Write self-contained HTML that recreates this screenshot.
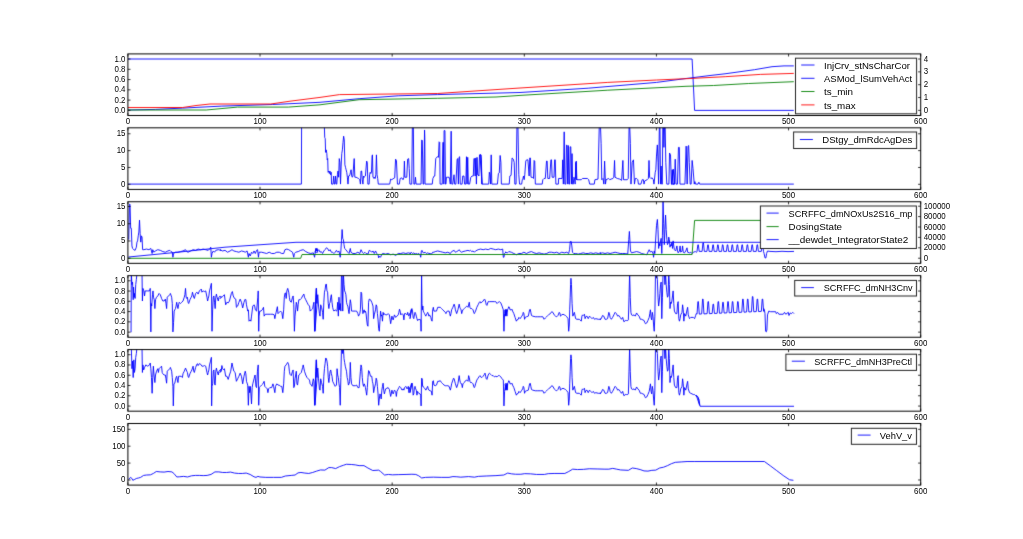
<!DOCTYPE html>
<html><head><meta charset="utf-8"><style>
html,body{margin:0;padding:0;background:#fff;width:1023px;height:539px;overflow:hidden}
svg{display:block;will-change:transform}
text{font-family:"Liberation Sans",sans-serif;fill:#000}
.xl{font-size:9.0px;text-anchor:middle}
.yl{font-size:9.0px;text-anchor:end}
.yr{font-size:9.0px;text-anchor:start}
.lt{font-size:9.3px}
.tk{stroke:#000;stroke-width:0.8}
.fr{fill:none;stroke:#000;stroke-width:1}
.lg{fill:#fff;stroke:#222;stroke-width:1}
.dl{fill:none;stroke-width:0.9;stroke-linejoin:round}
</style></head><body>
<svg width="1023" height="539" viewBox="0 0 1023 539">
<filter id="bl" x="0" y="0" width="1" height="1" color-interpolation-filters="sRGB"><feConvolveMatrix order="3" kernelMatrix="0.015 0.075 0.015 0.075 0.64 0.075 0.015 0.075 0.015" edgeMode="duplicate"/></filter>
<g filter="url(#bl)">
<rect width="1023" height="539" fill="#fff"/>
<defs><clipPath id="c0"><rect x="127.90" y="53.90" width="792.80" height="61.60"/></clipPath><clipPath id="c1"><rect x="127.90" y="127.82" width="792.80" height="61.60"/></clipPath><clipPath id="c2"><rect x="127.90" y="201.74" width="792.80" height="61.60"/></clipPath><clipPath id="c3"><rect x="127.90" y="275.66" width="792.80" height="61.60"/></clipPath><clipPath id="c4"><rect x="127.90" y="349.58" width="792.80" height="61.60"/></clipPath><clipPath id="c5"><rect x="127.90" y="423.50" width="792.80" height="61.60"/></clipPath></defs>
<path d="M128.00,59.00 L692.10,59.00 L694.60,110.40 L793.80,110.40" stroke="#0000ff" class="dl" clip-path="url(#c0)"/>
<path d="M128.00,110.00 L155.40,109.40 L182.70,108.10 L221.80,106.10 L272.70,104.50 L320.00,102.30 L359.10,98.70 L398.20,95.80 L437.30,94.60 L520.00,92.50 L588.20,88.20 L656.60,82.40 L686.00,78.50 L710.00,75.50 L725.00,73.80 L754.50,69.70 L772.00,66.70 L784.00,65.90 L793.80,65.90" stroke="#0000ff" class="dl" clip-path="url(#c0)"/>
<path d="M128.00,110.00 L206.20,110.00 L237.50,107.10 L288.30,107.10 L320.00,104.80 L359.10,99.70 L437.30,98.30 L496.00,97.00 L510.00,96.10 L520.00,95.40 L607.80,90.20 L686.00,86.30 L713.50,85.50 L748.70,83.50 L793.80,81.70" stroke="#008000" class="dl" clip-path="url(#c0)"/>
<path d="M128.00,107.50 L182.70,107.50 L196.00,105.50 L210.00,104.00 L270.70,104.00 L290.00,101.20 L320.00,97.40 L339.50,94.60 L437.30,93.50 L520.00,88.00 L607.80,82.40 L656.60,80.00 L689.90,78.50 L725.20,76.70 L760.40,74.40 L793.80,73.40" stroke="#ff0000" class="dl" clip-path="url(#c0)"/>
<path d="M128.00,184.10 L301.40,184.10 L301.60,120.00 L324.35,126.24 L324.73,137.44 L325.22,138.68 L325.60,152.36 L326.22,149.88 L326.84,153.61 L327.21,159.83 L327.71,158.58 L328.08,172.26 L328.71,171.02 L329.33,173.51 L329.95,171.02 L330.57,174.75 L331.19,172.26 L331.57,184.10 L333.06,184.10 L333.68,176.00 L334.30,184.10 L334.93,184.10 L335.55,176.00 L336.17,184.10 L336.79,184.10 L337.41,174.75 L338.03,171.02 L338.66,177.24 L339.28,158.58 L339.90,162.31 L340.52,184.10 L341.14,166.04 L341.77,153.61 L342.39,149.88 L343.01,142.41 L343.63,136.19 L344.25,139.93 L344.88,164.80 L345.50,167.29 L346.12,169.78 L346.74,172.26 L347.36,177.24 L347.99,184.10 L348.61,176.00 L349.23,176.00 L349.85,174.75 L350.47,172.26 L351.09,169.78 L351.72,176.00 L352.34,177.24 L352.96,176.00 L353.58,166.04 L354.20,158.58 L354.83,177.24 L356.07,177.24 L357.31,177.86 L358.56,178.48 L359.80,179.73 L360.42,184.10 L361.04,171.02 L361.67,171.02 L362.29,179.73 L362.91,184.10 L363.53,176.00 L364.15,177.24 L365.40,176.00 L366.64,161.07 L367.26,162.31 L367.89,184.10 L369.13,184.10 L369.60,174.75 L370.22,172.26 L370.85,173.51 L371.47,172.26 L372.09,156.09 L372.46,154.85 L372.96,177.24 L373.33,177.24 L373.96,178.48 L374.58,177.24 L375.20,178.48 L375.82,174.75 L376.44,154.85 L377.06,174.75 L377.69,178.48 L378.31,184.10 L389.50,184.10 L389.73,184.10 L390.60,179.10 L391.84,179.73 L393.08,178.73 L394.70,177.86 L395.57,159.20 L396.44,160.45 L397.44,184.10 L399.30,184.10 L400.17,178.48 L401.79,177.86 L403.03,179.73 L403.91,177.24 L404.40,161.07 L404.90,177.24 L406.77,177.24 L407.64,159.20 L408.63,158.58 L409.25,168.53 L409.88,184.10 L411.74,184.10 L412.36,126.24 L413.36,126.24 L413.86,184.10 L414.85,184.10 L415.47,177.24 L416.09,184.10 L421.07,184.10 L421.69,139.93 L422.31,140.55 L423.06,184.10 L423.81,184.10 L424.55,129.98 L424.80,137.44 L425.05,184.10 L432.26,184.10 L432.89,178.48 L434.13,176.00 L434.75,176.00 L435.75,158.58 L436.62,157.34 L437.86,156.72 L438.48,157.34 L439.10,141.79 L439.73,142.41 L440.10,184.10 L442.21,184.10 L442.84,142.41 L443.46,142.41 L443.83,184.10 L444.08,130.60 L444.95,130.60 L445.45,184.10 L445.95,184.10 L446.44,177.24 L447.19,177.24 L449.05,177.24 L449.68,179.73 L450.30,184.10 L451.17,131.22 L451.79,184.10 L452.79,184.10 L454.03,174.75 L454.65,184.10 L455.90,184.10 L457.14,159.20 L457.76,158.58 L458.38,184.10 L459.00,157.34 L459.63,156.72 L460.25,184.10 L462.11,184.10 L462.74,176.00 L463.98,176.00 L464.60,184.10 L465.85,184.10 L466.47,156.72 L467.09,184.10 L467.71,157.34 L468.33,184.10 L469.58,184.10 L470.82,177.24 L472.06,176.00 L473.31,176.00 L473.93,158.58 L474.55,158.58 L475.17,176.00 L475.80,157.96 L476.42,184.10 L477.04,157.34 L477.66,174.75 L478.28,174.75 L478.91,176.00 L479.53,154.85 L480.77,154.85 L481.39,159.83 L482.01,184.10 L480.00,154.85 L481.00,154.85 L481.87,184.10 L488.71,184.10 L489.33,172.26 L489.95,174.75 L490.57,184.10 L491.19,154.85 L491.82,184.10 L497.41,184.10 L498.41,173.51 L499.28,172.89 L500.15,155.47 L500.90,162.31 L501.39,184.10 L509.23,184.10 L509.85,176.00 L511.09,175.37 L512.09,157.96 L513.33,159.20 L514.20,162.31 L514.83,184.10 L516.07,184.10 L516.94,126.24 L517.94,126.24 L518.81,174.75 L519.55,184.10 L521.67,184.10 L522.29,179.73 L522.91,178.48 L523.53,176.00 L524.15,179.73 L524.78,174.75 L525.77,161.07 L526.64,159.83 L527.89,159.83 L529.13,176.00 L529.75,157.96 L530.37,157.96 L531.00,177.24 L532.24,177.24 L533.48,178.48 L534.10,160.45 L534.73,161.07 L535.35,184.10 L542.19,184.10 L542.81,179.73 L544.05,178.48 L545.30,178.48 L546.54,161.07 L547.16,161.07 L547.79,178.48 L549.65,178.48 L550.90,159.83 L551.52,159.83 L552.14,177.24 L554.00,177.24 L554.63,159.83 L555.25,159.83 L555.87,184.10 L558.36,184.10 L558.61,178.48 L562.09,178.48 L562.71,159.83 L563.33,184.10 L564.20,131.84 L564.83,184.10 L565.82,184.10 L566.44,144.90 L567.06,145.52 L567.69,184.10 L568.31,145.52 L568.93,184.10 L569.55,184.10 L570.17,146.77 L570.80,146.77 L571.42,184.10 L572.04,153.61 L572.66,184.10 L573.28,184.10 L573.91,177.24 L574.53,178.48 L575.15,184.10 L575.77,162.31 L576.39,178.48 L577.01,179.73 L575.62,178.48 L576.24,161.07 L576.87,179.73 L581.22,179.73 L582.46,178.48 L587.44,178.48 L588.68,179.73 L589.68,184.10 L594.28,184.10 L594.90,179.73 L598.01,179.10 L599.25,126.24 L600.50,126.24 L601.12,143.66 L601.74,179.73 L602.99,178.48 L603.86,184.10 L604.60,161.07 L605.47,184.10 L606.09,179.73 L608.58,178.48 L609.83,179.73 L611.07,179.10 L612.94,178.48 L613.81,177.24 L614.55,160.45 L615.05,177.24 L617.29,178.48 L619.78,179.10 L621.64,180.35 L622.89,160.45 L623.51,179.73 L627.24,179.73 L628.23,178.48 L629.10,126.24 L629.73,126.24 L630.35,143.66 L630.97,184.10 L632.21,162.31 L633.46,159.83 L634.45,184.10 L635.32,178.48 L636.57,178.48 L637.81,179.73 L638.43,184.10 L640.92,184.10 L642.16,179.73 L643.41,179.73 L644.03,184.10 L644.65,180.97 L647.14,179.73 L648.38,178.48 L649.00,160.45 L649.63,177.24 L650.87,178.48 L652.11,177.86 L653.36,179.73 L653.98,184.10 L655.22,172.26 L655.85,169.78 L656.47,156.09 L657.34,144.90 L658.08,162.31 L658.58,184.10 L659.33,126.24 L659.95,126.24 L660.57,184.10 L661.07,166.04 L661.69,184.10 L662.31,184.10 L662.81,126.24 L663.43,126.24 L663.93,147.39 L664.55,126.24 L665.17,126.24 L665.80,162.31 L666.79,184.10 L668.91,184.10 L669.53,152.99 L670.52,154.85 L671.39,184.10 L672.01,184.10 L673.26,169.15 L674.50,184.10 L671.49,184.10 L672.24,169.78 L673.11,184.10 L674.35,184.10 L675.22,159.20 L675.97,184.10 L677.46,184.10 L678.46,147.39 L679.33,147.39 L679.95,184.10 L684.93,184.10 L686.17,146.14 L687.16,184.10 L688.03,146.14 L688.66,145.52 L689.28,162.31 L690.15,184.10 L691.14,184.10 L692.14,160.45 L693.01,168.53 L694.25,184.10 L694.88,181.59 L695.50,184.10 L697.99,184.10 L698.86,182.21 L699.60,184.10 L793.80,184.10" stroke="#0000ff" class="dl" clip-path="url(#c1)"/>
<path d="M128.78,239.61 L129.41,204.31 L130.04,204.31 L130.67,228.26 L131.31,228.26 L131.94,245.92 L132.57,248.44 L133.83,249.70 L135.09,250.33 L136.35,247.18 L136.98,242.14 L137.61,240.88 L138.24,235.83 L138.87,232.05 L139.50,220.07 L140.13,233.31 L140.76,242.14 L141.39,235.83 L142.02,237.09 L142.65,249.70 L143.92,249.70 L146.44,249.07 L148.96,249.70 L150.85,248.44 L151.48,250.96 L152.11,253.49 L152.74,249.70 L154.00,252.22 L155.26,250.96 L157.79,249.70 L160.31,250.33 L162.83,251.59 L165.35,252.22 L167.88,250.96 L169.77,250.33 L171.03,251.59 L172.29,252.22 L172.92,257.27 L173.55,253.49 L175.44,252.22 L177.96,252.22 L180.49,251.59 L183.01,250.96 L185.53,249.70 L186.79,251.59 L188.05,252.22 L190.57,250.96 L193.10,249.70 L195.62,250.33 L198.14,249.07 L200.66,249.70 L203.18,249.07 L205.71,249.70 L208.23,250.33 L210.12,248.44 L210.75,247.18 L211.38,257.27 L212.01,253.49 L213.27,250.96 L214.53,252.22 L215.79,250.33 L218.32,249.70 L220.84,250.33 L220.00,249.70 L222.52,250.96 L225.04,250.33 L227.57,252.22 L230.09,250.96 L231.98,249.70 L233.87,250.96 L236.39,251.59 L238.92,252.22 L241.44,250.96 L243.96,251.59 L245.22,252.22 L247.11,250.96 L248.37,257.27 L249.00,253.49 L250.26,256.01 L251.53,252.22 L252.79,253.49 L254.05,250.96 L255.31,253.49 L256.57,250.33 L257.58,249.70 L258.46,257.27 L259.09,252.22 L261.61,252.22 L264.14,252.85 L266.66,253.49 L269.18,252.22 L271.70,253.49 L274.22,253.49 L276.75,252.22 L279.27,252.22 L281.79,253.49 L283.68,253.49 L284.94,249.70 L286.83,249.07 L288.73,249.70 L290.62,250.96 L292.51,252.22 L293.77,257.27 L294.40,253.49 L295.66,252.22 L298.18,251.59 L300.71,250.33 L303.23,249.70 L305.75,251.59 L308.27,252.85 L310.79,253.49 L313.32,252.85 L314.58,257.27 L315.21,252.22 L315.84,248.44 L316.47,250.96 L317.10,248.44 L317.73,252.22 L315.00,252.22 L316.26,248.44 L317.52,250.96 L318.78,249.70 L320.04,252.22 L321.31,251.59 L322.57,253.49 L323.83,250.96 L325.09,249.70 L326.35,247.81 L327.61,248.44 L328.87,250.96 L330.13,249.70 L331.39,252.22 L332.65,252.22 L333.92,253.49 L335.18,252.22 L336.44,250.33 L337.70,252.22 L338.96,250.96 L340.22,257.27 L340.85,250.96 L341.48,240.88 L342.11,229.53 L342.74,238.35 L343.37,239.61 L344.00,244.66 L344.63,248.44 L345.90,249.70 L347.79,252.22 L349.05,253.49 L350.31,248.44 L350.94,252.22 L352.83,253.49 L355.35,253.49 L357.88,252.22 L359.77,253.49 L361.03,249.70 L362.29,252.22 L363.55,253.49 L364.81,252.22 L366.07,253.49 L367.96,254.12 L369.22,250.33 L370.49,250.96 L371.75,252.22 L373.01,250.96 L374.27,253.49 L375.53,250.96 L376.79,253.49 L378.05,254.75 L378.68,257.90 L379.31,256.01 L380.57,257.27 L381.83,254.12 L383.10,253.49 L385.62,254.12 L388.14,253.49 L390.66,254.75 L393.18,254.12 L395.71,255.38 L398.23,253.49 L400.75,253.49 L403.27,252.85 L405.79,253.49 L408.32,252.85 L410.84,253.49 L410.00,253.49 L411.26,252.22 L412.52,253.49 L413.78,252.85 L415.04,254.12 L416.31,253.49 L417.57,254.12 L418.83,253.49 L420.09,254.75 L420.72,257.27 L421.35,250.96 L421.98,250.33 L422.61,252.22 L423.87,252.85 L425.13,252.22 L426.39,253.49 L427.65,252.85 L428.92,253.49 L430.18,253.49 L431.44,254.12 L432.70,252.22 L433.96,252.22 L435.22,251.59 L437.74,250.96 L440.26,251.59 L442.79,252.22 L445.31,252.85 L447.83,252.22 L450.35,253.49 L451.61,251.59 L452.88,250.96 L454.14,250.33 L455.40,252.22 L456.66,251.59 L457.92,250.96 L459.18,249.70 L460.44,251.59 L461.70,252.22 L462.96,251.59 L465.49,250.96 L468.01,250.33 L469.27,250.96 L470.53,250.33 L471.79,251.59 L473.05,250.96 L474.31,252.22 L475.57,250.96 L478.10,249.70 L480.62,249.07 L483.14,249.70 L485.66,249.07 L488.18,249.70 L490.71,248.44 L493.23,249.07 L495.75,249.70 L498.27,249.07 L500.79,249.70 L502.69,249.07 L503.32,257.27 L503.95,257.27 L504.58,253.49 L505.84,252.22 L505.00,252.22 L507.52,252.85 L508.78,251.59 L511.31,252.22 L513.83,253.49 L516.35,254.75 L518.87,253.49 L521.39,253.49 L523.92,252.22 L526.44,253.49 L528.96,252.22 L531.48,251.59 L534.00,252.85 L536.53,253.49 L539.05,252.85 L541.57,253.49 L544.09,254.12 L546.61,253.49 L549.14,252.22 L551.66,252.22 L554.18,252.85 L556.70,252.22 L559.22,253.49 L561.75,252.22 L564.27,252.85 L566.79,252.22 L568.68,253.49 L569.56,249.70 L570.32,241.51 L571.20,241.51 L571.83,245.92 L572.47,252.22 L573.73,253.49 L575.62,253.49 L578.14,254.12 L580.66,253.49 L583.18,252.85 L585.71,253.49 L588.23,253.49 L590.75,252.85 L593.27,253.49 L595.79,252.85 L598.32,253.49 L600.84,252.85 L600.00,253.49 L602.52,252.85 L605.04,253.49 L607.57,252.85 L610.09,253.49 L612.61,252.85 L615.13,252.22 L617.65,252.85 L620.18,253.49 L622.70,253.49 L625.22,253.49 L627.74,254.12 L628.75,239.61 L629.38,231.42 L630.01,242.14 L630.52,250.96 L631.53,252.85 L634.05,252.22 L636.57,251.59 L639.09,252.22 L641.61,253.49 L644.14,254.12 L646.66,254.75 L649.18,249.70 L650.44,252.22 L651.70,250.96 L652.96,253.49 L653.59,257.27 L654.22,250.96 L654.85,253.49 L655.49,242.14 L656.49,225.74 L657.38,219.44 L658.01,229.53 L658.64,248.44 L659.27,243.40 L659.90,245.92 L660.53,240.88 L661.16,238.35 L661.79,253.49 L662.42,235.83 L663.05,200.52 L663.68,223.22 L664.31,244.66 L664.94,229.53 L665.57,215.02 L666.20,229.53 L666.83,239.61 L667.47,244.66 L668.10,243.40 L668.73,237.09 L669.36,239.61 L669.99,247.18 L670.62,244.66 L671.25,245.92 L671.88,242.14 L672.51,248.44 L673.14,240.88 L673.77,245.92 L674.40,249.70 L675.66,250.96 L676.92,245.92 L677.55,250.96 L678.18,252.85 L679.45,250.96 L680.08,245.92 L680.71,252.22 L681.97,250.96 L682.60,245.92 L683.23,252.22 L684.49,252.85 L685.75,250.96 L687.01,247.81 L687.64,252.22 L689.53,252.85 L690.79,252.22 L692.06,253.49 L693.32,252.22 L695.21,251.59 L695.50,251.60 L696.50,252.30 L697.00,251.40 L697.85,244.80 L698.35,244.80 L699.20,251.40 L702.10,251.40 L702.95,242.80 L703.45,242.80 L704.30,251.40 L706.90,251.40 L707.75,244.80 L708.25,244.80 L709.10,251.40 L712.00,251.40 L712.85,244.80 L713.35,244.80 L714.20,251.40 L716.80,251.40 L717.65,244.80 L718.15,244.80 L719.00,251.40 L721.60,251.40 L722.45,244.80 L722.95,244.80 L723.80,251.40 L726.40,251.40 L727.25,244.80 L727.75,244.80 L728.60,251.40 L731.20,251.40 L732.05,244.80 L732.55,244.80 L733.40,251.40 L736.30,251.40 L737.15,244.80 L737.65,244.80 L738.50,251.40 L741.10,251.40 L741.95,244.80 L742.45,244.80 L743.30,251.40 L746.30,251.40 L747.15,244.80 L747.65,244.80 L748.50,251.40 L751.10,251.40 L751.95,244.80 L752.45,244.80 L753.30,251.40 L756.20,251.40 L757.05,244.80 L757.55,244.80 L758.40,251.40 L761.30,251.40 L762.15,244.80 L762.65,244.80 L763.50,251.40 L764.10,253.50 L765.00,257.90 L765.90,257.90 L766.60,253.50 L767.50,251.00 L770.00,251.40 L776.00,251.70 L782.00,251.30 L788.00,251.60 L794.00,251.40" stroke="#0000ff" class="dl" clip-path="url(#c2)"/>
<path d="M128.00,258.30 L300.70,258.30 L302.00,254.50 L692.10,254.50 L694.60,220.40 L793.80,220.40" stroke="#008000" class="dl" clip-path="url(#c2)"/>
<path d="M128.50,257.00 L180.00,252.00 L225.00,247.20 L258.00,244.90 L296.00,242.30 L793.80,242.30" stroke="#0000ff" class="dl" clip-path="url(#c2)"/>
<path d="M131.05,332.28 L131.31,273.26 L131.94,284.61 L132.57,282.09 L133.20,299.74 L133.58,287.13 L134.08,297.22 L134.46,293.44 L135.09,298.48 L135.72,284.61 L136.35,279.57 L136.98,273.26 L142.02,273.26 L142.40,301.00 L142.91,288.39 L143.92,290.92 L144.55,295.96 L145.18,290.92 L147.70,290.92 L149.59,290.92 L150.22,288.39 L150.85,331.90 L151.23,303.53 L151.73,306.05 L152.49,294.70 L152.99,290.92 L153.50,297.22 L154.26,299.74 L154.89,308.57 L155.52,299.74 L156.53,297.22 L157.79,295.96 L159.05,293.44 L160.31,294.70 L161.57,298.48 L162.83,301.00 L164.09,301.00 L165.35,299.11 L165.98,303.53 L166.61,308.57 L167.24,297.22 L168.51,295.96 L169.77,294.70 L170.40,293.44 L171.66,297.22 L172.29,303.53 L172.92,331.90 L173.55,322.44 L174.18,311.09 L175.44,308.57 L176.07,306.05 L176.70,302.26 L177.33,306.05 L177.96,308.57 L178.59,304.79 L179.22,302.26 L180.49,303.53 L181.75,302.26 L183.01,301.00 L184.27,297.22 L184.90,294.70 L185.53,288.39 L186.16,297.22 L186.79,298.48 L187.42,297.22 L188.05,302.26 L188.68,303.53 L189.94,299.74 L191.20,297.22 L191.83,295.96 L192.47,292.18 L193.10,294.70 L193.73,297.22 L194.36,298.48 L195.62,293.44 L196.88,292.18 L198.14,294.07 L199.40,290.92 L200.66,289.65 L201.29,289.02 L201.92,292.18 L203.18,290.92 L204.45,291.55 L205.71,290.92 L206.97,297.22 L207.60,301.00 L208.23,298.48 L208.86,295.96 L209.49,290.92 L210.50,287.13 L211.38,283.35 L212.01,331.27 L212.64,309.83 L213.27,297.22 L213.90,295.96 L214.53,302.26 L215.16,308.57 L215.79,297.22 L216.42,294.07 L217.06,297.22 L218.32,301.00 L218.95,297.22 L220.21,295.96 L221.47,297.22 L220.00,298.48 L221.26,297.22 L222.52,296.59 L224.41,294.70 L225.67,304.79 L226.94,302.26 L228.20,302.90 L229.46,301.00 L231.35,293.44 L232.36,291.55 L233.24,295.96 L234.50,298.48 L235.76,299.11 L236.39,307.31 L237.65,306.05 L238.92,302.26 L240.18,299.11 L241.44,302.26 L242.70,307.94 L243.96,302.26 L245.22,299.11 L245.85,299.74 L246.48,304.79 L247.74,311.09 L248.37,309.83 L249.00,321.18 L250.26,319.92 L250.90,321.18 L251.53,316.14 L252.79,306.05 L254.05,304.79 L254.68,306.05 L255.31,309.83 L256.57,311.09 L257.83,297.22 L258.21,290.92 L258.71,331.27 L259.09,316.14 L259.72,311.09 L260.98,311.09 L262.24,309.83 L263.51,307.31 L264.14,316.14 L265.40,314.24 L267.92,314.24 L270.44,314.24 L272.96,314.24 L274.22,314.88 L274.85,318.66 L275.49,314.88 L276.12,312.35 L277.38,306.68 L278.01,313.61 L279.27,312.35 L280.53,311.09 L281.79,312.35 L282.80,318.66 L283.68,309.83 L284.31,297.22 L284.94,293.44 L285.57,292.81 L286.20,298.48 L286.83,290.92 L287.72,288.39 L288.73,292.18 L289.36,297.22 L289.99,301.00 L291.25,302.26 L292.51,297.22 L293.14,295.96 L293.77,304.79 L294.40,331.27 L295.03,316.14 L295.66,309.83 L296.29,302.26 L296.92,304.79 L297.55,311.09 L298.18,304.79 L298.81,299.74 L300.08,299.74 L301.34,298.48 L302.60,295.96 L303.86,294.07 L304.49,297.22 L305.75,299.74 L307.01,302.26 L308.27,304.79 L309.53,306.05 L310.16,311.09 L311.42,309.83 L312.69,308.57 L313.32,304.79 L313.95,302.26 L314.58,331.27 L315.21,309.83 L315.84,297.22 L316.47,288.39 L317.10,303.53 L315.00,331.27 L315.63,302.26 L316.26,288.39 L316.89,303.53 L317.77,294.70 L318.53,306.05 L319.41,313.61 L320.04,316.14 L320.67,304.79 L321.56,307.31 L322.57,312.35 L323.20,319.29 L323.83,302.26 L324.46,292.18 L325.09,289.65 L325.72,284.61 L326.35,283.98 L326.98,290.92 L327.61,292.18 L328.24,303.53 L328.87,308.57 L329.50,303.53 L330.13,302.26 L330.76,297.22 L331.39,294.70 L332.02,302.26 L332.65,307.31 L333.28,309.83 L333.92,311.09 L335.18,309.83 L336.44,311.09 L337.07,309.83 L337.70,302.26 L338.33,316.14 L338.96,297.22 L339.59,309.83 L340.22,303.53 L340.85,311.09 L341.48,273.26 L342.11,273.26 L342.74,311.09 L343.37,273.26 L344.00,284.61 L344.63,290.92 L345.26,292.18 L345.90,294.70 L346.53,302.26 L347.16,304.79 L347.79,306.05 L348.42,309.83 L349.05,313.61 L349.68,306.05 L350.31,299.74 L350.94,303.53 L351.57,311.09 L352.83,311.09 L355.35,311.09 L356.61,311.09 L357.88,313.61 L358.51,316.14 L359.14,314.88 L359.77,313.61 L360.40,309.83 L361.03,292.18 L361.66,293.44 L362.29,306.05 L362.92,313.61 L363.55,311.09 L364.18,309.83 L364.81,312.35 L365.44,311.09 L366.07,313.61 L366.70,319.92 L367.33,324.96 L367.96,326.22 L368.59,302.26 L369.22,299.11 L370.49,299.74 L371.75,302.26 L373.01,306.05 L373.64,318.66 L374.27,314.88 L375.53,309.83 L376.16,304.79 L376.79,306.05 L377.42,313.61 L378.05,319.92 L378.68,328.75 L379.31,331.27 L379.94,321.18 L380.57,311.09 L381.20,316.14 L381.83,314.88 L382.47,321.18 L383.10,312.35 L383.73,314.88 L384.36,313.61 L385.62,314.88 L386.88,314.88 L388.14,313.61 L389.40,314.88 L390.66,323.70 L391.29,319.92 L391.92,316.14 L392.55,318.66 L393.18,319.92 L394.45,314.88 L395.71,317.40 L396.97,316.14 L398.23,314.88 L398.86,312.35 L399.49,309.20 L400.12,311.09 L400.75,314.88 L402.01,313.61 L403.27,314.88 L403.90,319.92 L404.53,313.61 L405.79,313.61 L407.06,314.88 L407.69,312.35 L408.32,314.88 L408.95,316.14 L409.58,313.61 L410.84,312.35 L411.47,309.20 L410.00,318.66 L410.63,314.88 L411.26,309.83 L411.89,308.57 L412.52,311.09 L413.15,317.40 L413.78,318.66 L414.41,314.88 L415.04,312.35 L415.67,313.61 L416.31,316.14 L416.94,318.66 L417.57,320.55 L418.20,319.29 L418.83,319.92 L420.09,319.29 L420.72,319.92 L421.10,331.27 L421.60,273.26 L421.98,303.53 L422.36,309.83 L422.86,306.05 L423.24,311.09 L423.87,312.35 L424.50,313.61 L425.13,314.88 L425.76,316.14 L426.39,314.88 L427.65,312.35 L428.28,313.61 L428.92,316.14 L429.55,314.88 L430.81,317.40 L431.44,319.92 L432.07,321.18 L432.70,309.83 L433.33,307.31 L433.96,311.09 L435.22,311.09 L436.48,311.09 L437.74,307.31 L439.00,307.31 L440.26,307.31 L441.53,308.57 L442.79,309.83 L444.05,311.09 L445.31,312.35 L445.94,313.61 L446.57,311.72 L447.83,311.09 L449.09,311.09 L449.72,313.61 L450.35,316.14 L450.98,313.61 L451.61,309.83 L452.88,307.31 L454.14,304.16 L454.77,306.05 L455.40,309.83 L456.66,313.61 L457.92,309.83 L459.18,304.16 L459.81,307.31 L460.44,308.57 L461.07,309.83 L461.70,313.61 L462.33,311.09 L462.96,309.83 L464.22,308.57 L465.49,307.31 L466.75,306.05 L468.01,307.31 L469.27,302.26 L469.90,307.31 L470.53,308.57 L471.79,308.57 L473.05,309.83 L473.68,312.35 L474.31,313.61 L474.94,312.35 L475.57,311.09 L476.83,307.31 L478.10,304.79 L479.36,302.26 L479.99,301.63 L480.62,302.90 L481.88,302.26 L483.14,301.00 L484.40,299.11 L485.03,299.74 L485.66,302.26 L486.29,304.79 L486.92,305.42 L488.18,301.63 L489.45,301.63 L491.97,301.63 L494.49,301.63 L495.75,301.63 L497.01,303.53 L498.27,302.26 L499.53,301.63 L500.79,302.90 L502.06,306.05 L503.32,309.83 L503.95,331.27 L504.58,313.61 L505.21,309.83 L505.84,314.88 L506.47,312.35 L507.10,309.83 L505.00,309.83 L505.63,316.14 L506.26,309.83 L506.89,316.14 L507.52,309.83 L508.15,308.57 L508.78,306.68 L509.41,307.31 L510.04,309.83 L511.31,309.83 L511.94,309.20 L512.57,311.09 L513.83,313.61 L515.09,317.40 L516.35,321.18 L516.98,319.92 L518.24,319.29 L518.87,317.40 L520.13,318.66 L521.39,316.77 L522.65,314.88 L523.28,312.35 L523.92,313.61 L524.55,319.29 L525.18,317.40 L526.44,316.77 L528.33,316.14 L529.59,309.83 L530.22,309.20 L530.85,312.35 L531.48,315.51 L532.74,316.14 L535.26,316.77 L537.79,316.77 L540.31,316.77 L542.83,316.77 L544.09,319.29 L545.35,318.03 L546.61,316.77 L547.88,315.51 L549.14,314.24 L550.40,313.61 L551.66,311.72 L552.92,312.35 L554.18,314.88 L555.44,316.14 L556.70,316.77 L557.96,315.51 L559.22,312.35 L559.85,312.98 L560.49,316.14 L561.75,314.88 L563.01,314.24 L564.27,314.88 L565.53,315.51 L566.79,316.77 L568.05,318.66 L568.68,331.27 L569.31,324.96 L569.69,309.83 L570.20,297.22 L570.57,284.61 L570.95,278.31 L571.46,284.61 L572.09,303.53 L572.84,316.14 L573.73,313.61 L574.36,312.35 L575.62,318.66 L576.88,319.29 L579.40,319.29 L581.29,321.18 L581.92,316.14 L582.55,314.88 L583.18,315.51 L584.45,314.24 L585.08,318.66 L585.71,316.77 L586.97,316.14 L588.23,318.66 L589.49,316.14 L590.75,317.40 L592.01,318.66 L593.27,317.40 L594.53,319.29 L595.79,318.66 L598.32,319.29 L600.84,319.29 L600.00,319.29 L601.26,318.66 L602.52,315.51 L603.78,316.14 L605.04,319.29 L606.31,319.29 L607.57,318.66 L608.83,312.35 L609.46,313.61 L610.09,317.40 L611.35,319.29 L612.61,317.40 L613.87,314.88 L615.13,312.35 L616.39,313.61 L617.65,316.14 L618.92,315.51 L620.18,317.40 L621.44,319.29 L622.70,317.40 L623.33,319.92 L623.96,321.81 L625.22,320.55 L626.48,320.55 L627.74,320.55 L628.37,319.92 L629.00,297.22 L629.63,273.26 L630.26,297.22 L630.90,312.35 L631.53,314.88 L632.79,315.51 L634.05,314.88 L635.31,316.14 L636.57,312.98 L637.83,314.88 L639.09,316.14 L640.35,319.29 L641.61,319.29 L642.88,319.92 L644.14,320.55 L644.77,322.44 L645.40,323.70 L646.66,323.07 L647.92,320.55 L649.18,317.40 L649.81,313.61 L650.44,309.83 L651.07,317.40 L651.70,319.92 L652.33,312.35 L652.96,316.14 L653.59,324.96 L654.22,331.27 L654.85,316.14 L655.49,273.26 L656.12,273.26 L656.75,273.26 L657.38,279.57 L658.01,297.22 L658.64,306.05 L659.27,301.00 L659.90,293.44 L660.53,284.61 L661.16,282.09 L661.79,318.66 L662.42,297.22 L663.05,273.26 L663.68,273.26 L664.31,273.26 L664.94,284.61 L665.57,273.26 L666.20,284.61 L666.83,292.18 L667.47,297.22 L668.10,295.96 L668.73,273.26 L669.36,284.61 L669.99,308.57 L670.62,302.26 L671.25,303.53 L671.88,301.00 L672.51,295.96 L673.14,290.92 L673.77,303.53 L674.40,311.09 L675.66,313.61 L676.92,313.61 L677.55,303.53 L678.18,301.63 L678.81,318.66 L679.45,321.18 L680.08,318.66 L680.71,314.88 L681.97,312.35 L682.60,304.79 L683.23,309.83 L683.86,321.18 L684.49,313.61 L685.75,316.14 L687.01,309.83 L687.64,307.31 L688.27,314.88 L689.53,318.66 L690.79,317.40 L693.32,317.40 L694.58,318.66 L695.63,315.51 L696.26,313.61 L697.02,314.12 L697.90,301.63 L698.40,301.63 L699.29,314.12 L701.68,313.92 L702.57,299.11 L703.07,299.11 L703.95,313.92 L707.11,313.68 L707.99,301.63 L708.49,301.63 L709.38,313.68 L712.15,313.47 L713.03,304.16 L713.54,304.16 L714.42,313.47 L717.19,313.25 L718.08,301.63 L718.58,301.63 L719.46,313.25 L721.86,313.05 L722.74,302.26 L723.25,302.26 L724.13,313.05 L726.90,312.83 L727.79,301.63 L728.29,301.63 L729.17,312.83 L731.44,312.63 L732.33,301.63 L732.83,301.63 L733.71,312.63 L736.74,312.41 L737.62,301.63 L738.13,301.63 L739.01,312.41 L741.78,312.19 L742.67,299.11 L743.17,299.11 L744.05,312.19 L746.58,311.98 L747.46,299.11 L747.96,299.11 L748.85,311.98 L751.49,311.77 L752.38,296.59 L752.88,296.59 L753.76,311.77 L756.29,311.56 L757.17,299.11 L757.67,299.11 L758.56,311.56 L761.33,311.34 L762.21,299.11 L762.72,299.11 L763.60,311.34 L763.73,308.57 L764.36,309.83 L764.99,313.61 L765.62,331.27 L766.25,331.90 L766.88,330.01 L767.51,314.88 L768.77,311.09 L770.66,311.72 L775.71,311.72 L776.34,313.61 L777.60,312.35 L778.86,314.24 L783.27,314.24 L784.53,312.35 L785.79,314.24 L788.32,312.35 L788.95,315.51 L790.21,312.98 L791.47,313.61 L792.73,312.35 L793.99,313.61" stroke="#0000ff" class="dl" clip-path="url(#c3)"/>
<path d="M131.31,347.26 L131.94,368.70 L132.57,361.13 L133.20,377.53 L133.83,359.87 L134.46,372.48 L135.09,368.70 L135.72,357.35 L136.35,353.57 L136.98,347.26 L142.02,347.26 L142.40,372.48 L142.91,364.92 L143.66,369.96 L144.55,367.44 L145.81,364.92 L147.70,366.18 L149.59,364.92 L150.22,363.02 L150.85,368.70 L151.48,377.53 L152.11,393.29 L152.74,377.53 L153.37,366.18 L154.00,375.00 L154.89,382.57 L155.52,375.00 L156.53,371.22 L157.79,368.70 L158.42,372.48 L159.05,368.70 L160.31,367.44 L161.57,366.18 L162.20,372.48 L162.83,373.74 L164.09,375.00 L165.35,375.00 L165.98,378.79 L166.61,383.20 L167.24,371.22 L168.51,369.96 L169.77,368.70 L170.40,367.44 L171.66,371.22 L172.29,377.53 L172.92,386.35 L173.30,405.90 L173.93,383.83 L174.81,383.20 L175.44,380.05 L176.07,377.53 L176.70,376.26 L177.33,380.05 L177.96,382.57 L178.59,376.26 L179.85,376.26 L181.12,376.26 L182.38,377.53 L183.01,373.74 L184.27,371.22 L185.53,368.07 L186.79,371.22 L187.42,372.48 L188.05,376.26 L188.68,377.53 L189.94,373.74 L191.20,371.22 L191.83,369.96 L193.10,366.18 L193.73,371.22 L194.36,372.48 L195.62,367.44 L196.88,364.28 L197.51,363.65 L198.14,365.55 L199.40,363.65 L200.66,364.28 L201.92,366.18 L203.18,366.18 L204.45,365.55 L205.71,366.18 L206.97,372.48 L207.60,375.00 L208.23,372.48 L208.86,369.96 L209.49,364.92 L210.50,361.13 L211.38,357.35 L211.63,405.90 L212.01,386.35 L212.64,383.83 L213.27,371.22 L213.90,369.96 L214.53,383.83 L215.16,385.09 L215.79,371.22 L216.42,368.07 L217.06,371.22 L218.32,375.00 L218.95,371.22 L220.21,369.96 L221.47,368.70 L220.00,372.48 L221.26,371.22 L221.89,365.55 L222.52,368.70 L223.78,369.96 L224.41,368.70 L225.67,376.26 L226.94,376.26 L228.20,379.42 L229.46,375.00 L230.72,371.22 L231.98,363.02 L232.61,366.18 L233.87,371.22 L235.13,372.48 L236.39,381.31 L237.65,378.79 L238.92,376.26 L240.18,373.11 L241.44,376.26 L242.70,383.83 L243.96,376.26 L245.22,371.22 L245.85,373.74 L246.48,381.31 L247.74,385.09 L248.37,405.27 L249.00,386.35 L249.63,392.66 L250.26,386.35 L250.90,393.92 L251.53,404.01 L252.16,387.61 L252.79,383.83 L254.05,378.79 L255.06,375.00 L255.94,386.35 L256.57,387.61 L257.45,371.22 L258.21,364.92 L258.71,405.27 L259.34,387.61 L260.35,386.35 L261.61,385.09 L262.88,383.83 L264.14,381.31 L264.77,386.35 L266.03,387.61 L267.29,388.88 L267.92,392.66 L268.55,388.88 L269.81,387.61 L271.70,387.61 L272.96,383.83 L273.59,386.35 L274.85,392.66 L275.49,386.35 L276.75,383.83 L278.01,385.09 L279.27,385.09 L280.53,386.35 L281.79,386.35 L282.80,392.66 L283.68,383.83 L284.31,371.22 L284.94,366.18 L286.20,364.92 L286.83,363.65 L287.72,362.39 L288.73,364.92 L289.36,371.22 L289.99,374.37 L291.25,375.63 L292.51,371.22 L293.14,369.96 L293.77,387.61 L294.40,386.35 L295.03,378.79 L295.66,375.00 L296.29,371.22 L296.92,383.83 L297.55,385.09 L298.18,380.05 L298.81,375.00 L300.08,373.74 L301.34,372.48 L302.60,367.44 L303.23,364.92 L303.86,368.07 L304.49,371.22 L305.75,375.00 L307.01,377.53 L308.27,378.79 L309.53,380.05 L310.16,383.83 L311.42,385.09 L312.06,386.35 L313.32,378.79 L313.95,381.31 L314.58,405.27 L315.21,383.83 L315.84,371.22 L316.47,359.87 L317.10,377.53 L315.00,405.27 L315.63,376.26 L316.26,359.87 L316.89,377.53 L317.77,368.07 L318.53,378.79 L319.41,388.88 L320.04,390.14 L320.67,378.79 L321.56,382.57 L322.57,386.35 L323.20,393.29 L323.83,376.26 L324.46,368.70 L325.09,363.65 L325.72,357.98 L326.35,358.61 L326.98,361.13 L327.61,366.18 L328.24,377.53 L328.87,382.57 L329.50,376.26 L330.13,371.22 L330.76,369.96 L331.39,373.74 L332.02,376.26 L332.65,381.31 L333.92,383.83 L335.18,386.35 L336.44,385.09 L337.07,368.70 L337.70,375.00 L338.33,377.53 L338.96,383.83 L339.59,387.61 L340.22,405.27 L340.85,377.53 L341.48,347.26 L342.11,347.26 L342.74,353.57 L343.37,347.26 L344.00,358.61 L344.63,362.39 L345.26,366.18 L346.53,371.22 L347.16,377.53 L347.79,380.05 L348.42,385.09 L349.05,383.83 L349.68,381.31 L350.31,362.39 L350.94,377.53 L351.57,383.83 L352.83,385.72 L355.35,385.72 L356.61,385.09 L357.88,387.61 L359.14,387.61 L360.40,371.22 L361.03,364.92 L361.66,367.44 L362.29,377.53 L362.92,383.83 L363.55,386.35 L364.18,383.83 L364.81,385.09 L365.44,387.61 L366.07,391.40 L366.70,395.18 L367.33,387.61 L367.96,377.53 L368.59,370.59 L369.22,371.22 L370.49,376.26 L371.75,376.26 L372.38,381.31 L373.01,383.83 L373.64,392.66 L374.27,388.88 L375.53,383.83 L376.16,378.16 L376.79,380.05 L377.42,386.35 L378.05,393.92 L378.68,405.27 L379.31,398.96 L379.94,393.92 L380.57,395.18 L381.20,398.96 L381.83,390.14 L382.47,386.35 L383.10,383.20 L383.73,390.14 L384.36,393.92 L384.99,391.40 L385.62,388.88 L386.88,388.24 L388.14,387.61 L389.40,389.51 L390.66,396.44 L391.29,393.92 L391.92,390.14 L392.55,392.66 L393.18,393.92 L394.45,390.14 L395.71,391.40 L396.34,396.44 L396.97,391.40 L398.23,388.88 L398.86,387.61 L399.49,386.35 L400.75,387.61 L402.01,390.14 L403.27,388.88 L403.90,390.14 L404.53,387.61 L405.79,386.35 L407.06,388.88 L407.69,387.61 L408.32,386.35 L408.95,392.66 L409.58,387.61 L410.84,386.35 L412.10,383.20 L410.00,392.66 L410.63,388.88 L411.26,383.83 L411.89,383.20 L412.52,385.09 L413.15,395.18 L413.78,393.92 L414.41,387.61 L415.04,386.35 L415.67,388.88 L416.31,390.14 L416.94,395.18 L417.57,391.40 L418.20,392.66 L418.83,393.29 L420.09,393.92 L420.72,395.18 L421.10,405.90 L421.60,378.16 L422.23,378.79 L422.61,386.35 L423.24,386.35 L423.87,387.61 L425.13,388.88 L425.76,390.14 L426.39,389.51 L427.02,387.61 L427.65,386.35 L428.28,388.88 L428.92,390.14 L430.18,390.77 L431.44,391.40 L432.07,395.18 L432.70,381.31 L433.33,380.68 L433.96,385.09 L435.22,385.72 L436.48,385.09 L437.74,381.31 L439.00,381.31 L440.26,380.68 L441.53,382.57 L442.79,383.83 L444.05,385.09 L445.31,385.72 L446.57,385.72 L447.83,385.72 L449.09,386.35 L450.35,390.14 L450.98,387.61 L451.61,383.83 L452.88,380.05 L453.51,378.16 L454.14,378.79 L455.40,383.83 L456.66,387.61 L457.92,383.83 L459.18,375.63 L459.81,380.05 L460.44,382.57 L461.07,383.83 L461.70,383.83 L462.33,387.61 L462.96,383.83 L464.22,382.57 L465.49,380.68 L466.75,380.05 L468.01,381.31 L468.64,375.63 L469.27,377.53 L469.90,381.31 L470.53,382.57 L471.79,382.57 L473.05,383.83 L473.68,386.35 L474.31,387.61 L474.94,386.35 L475.57,383.83 L476.83,380.05 L478.10,378.16 L479.36,376.26 L479.99,375.63 L480.62,376.90 L481.88,377.53 L483.14,376.26 L484.40,374.37 L485.03,373.11 L485.66,376.26 L486.29,378.79 L486.92,379.42 L488.18,375.00 L489.45,373.11 L490.71,374.37 L491.97,375.63 L493.23,375.63 L494.49,376.90 L495.75,376.26 L497.01,376.90 L498.27,375.63 L499.53,375.63 L500.79,376.90 L502.06,378.79 L503.32,380.05 L503.95,405.90 L504.58,391.40 L505.21,387.61 L505.84,385.09 L506.47,386.35 L507.10,390.14 L507.73,383.83 L505.00,383.83 L505.63,390.14 L506.26,383.83 L506.89,390.14 L507.52,383.83 L508.15,382.57 L508.78,380.68 L509.41,381.31 L510.04,383.83 L511.31,383.83 L511.94,383.20 L512.57,385.09 L513.83,387.61 L515.09,391.40 L516.35,395.18 L516.98,393.92 L518.24,393.29 L518.87,391.40 L520.13,392.66 L521.39,390.77 L522.65,388.88 L523.28,386.35 L523.92,387.61 L524.55,393.29 L525.18,391.40 L526.44,390.77 L528.33,390.14 L529.59,383.83 L530.22,383.20 L530.85,386.35 L531.48,389.51 L532.74,390.14 L535.26,390.77 L537.79,390.77 L540.31,390.77 L542.83,390.77 L544.09,393.29 L545.35,392.03 L546.61,390.77 L547.88,389.51 L549.14,388.24 L550.40,387.61 L551.66,385.72 L552.92,386.35 L554.18,388.88 L555.44,390.14 L556.70,390.77 L557.96,389.51 L559.22,386.35 L559.85,386.98 L560.49,390.14 L561.75,388.88 L563.01,388.24 L564.27,388.88 L565.53,389.51 L566.79,390.77 L568.05,392.66 L568.68,405.27 L569.31,398.96 L569.69,383.83 L570.20,371.22 L570.57,358.61 L570.95,354.83 L571.46,358.61 L572.09,377.53 L572.84,390.14 L573.73,387.61 L574.36,386.35 L575.62,392.66 L576.88,393.29 L579.40,393.29 L581.29,395.18 L581.92,390.14 L582.55,388.88 L583.18,389.51 L584.45,388.24 L585.08,392.66 L585.71,390.77 L586.97,390.14 L588.23,392.66 L589.49,390.14 L590.75,391.40 L592.01,392.66 L593.27,391.40 L594.53,393.29 L595.79,392.66 L598.32,393.29 L600.84,393.29 L600.00,393.29 L601.26,392.66 L602.52,389.51 L603.78,390.14 L605.04,393.29 L606.31,393.29 L607.57,392.66 L608.83,386.35 L609.46,387.61 L610.09,391.40 L611.35,393.29 L612.61,391.40 L613.87,388.88 L615.13,386.35 L616.39,387.61 L617.65,390.14 L618.92,389.51 L620.18,391.40 L621.44,393.29 L622.70,391.40 L623.33,393.92 L623.96,395.81 L625.22,394.55 L626.48,394.55 L627.74,394.55 L628.37,393.92 L629.00,371.22 L629.63,347.26 L630.26,371.22 L630.90,386.35 L631.53,388.88 L632.79,389.51 L634.05,388.88 L635.31,390.14 L636.57,386.98 L637.83,388.88 L639.09,390.14 L640.35,393.29 L641.61,393.29 L642.88,393.92 L644.14,394.55 L644.77,396.44 L645.40,397.70 L646.66,397.07 L647.92,394.55 L649.18,391.40 L649.81,387.61 L650.44,383.83 L651.07,391.40 L651.70,393.92 L652.33,386.35 L652.96,390.14 L653.59,398.96 L654.22,405.27 L654.85,390.14 L655.49,347.26 L656.12,347.26 L656.75,347.26 L657.38,353.57 L658.01,371.22 L658.64,380.05 L659.27,375.00 L659.90,367.44 L660.53,358.61 L661.16,356.09 L661.79,392.66 L662.42,371.22 L663.05,347.26 L663.68,347.26 L664.31,347.26 L664.94,358.61 L665.57,347.26 L666.20,358.61 L666.83,366.18 L667.47,371.22 L668.10,369.96 L668.73,347.26 L669.36,358.61 L669.99,382.57 L670.62,376.26 L671.25,377.53 L671.88,375.00 L672.51,369.96 L673.14,364.92 L673.77,377.53 L674.40,385.09 L675.66,387.61 L676.92,387.61 L677.55,377.53 L678.18,375.63 L678.81,392.66 L679.45,395.18 L680.08,392.66 L680.71,388.88 L681.97,386.35 L682.60,378.79 L683.23,383.83 L683.86,395.18 L684.49,387.61 L685.75,390.14 L687.01,383.83 L687.64,381.31 L688.27,388.88 L689.53,392.66 L690.79,393.29 L692.06,393.92 L693.32,394.55 L694.58,394.55 L695.84,395.81 L697.10,396.44 L698.36,397.70 L699.62,405.27 L696.26,395.18 L697.52,396.44 L698.15,397.70 L698.78,398.96 L700.04,406.28 L793.99,406.28" stroke="#0000ff" class="dl" clip-path="url(#c4)"/>
<path d="M128.91,479.33 L130.47,477.37 L131.84,478.35 L132.82,480.30 L134.78,479.33 L136.73,478.35 L138.69,477.96 L140.64,477.37 L143.57,475.42 L146.51,475.02 L150.42,474.83 L153.35,473.46 L156.28,471.51 L160.19,471.90 L164.10,472.09 L168.01,471.51 L171.92,471.90 L173.88,473.46 L176.81,476.98 L179.74,476.78 L183.65,476.39 L187.56,476.98 L191.47,475.81 L195.38,475.42 L199.29,475.42 L203.20,475.61 L207.11,475.42 L211.02,474.44 L214.93,471.90 L218.84,471.90 L222.75,472.48 L226.66,472.48 L230.57,472.09 L234.48,473.07 L238.39,473.46 L242.30,473.46 L246.21,473.07 L250.12,474.44 L254.03,476.78 L255.99,477.37 L257.94,476.39 L259.90,476.98 L265.76,477.37 L273.58,477.37 L281.40,477.37 L285.31,476.00 L291.18,475.42 L295.09,475.02 L298.02,472.87 L300.95,472.48 L304.86,473.07 L308.77,473.46 L312.68,472.48 L316.59,471.11 L320.50,469.94 L324.89,470.14 L328.80,467.60 L331.73,467.60 L335.64,468.57 L339.55,466.62 L343.46,465.25 L346.39,464.27 L351.28,464.47 L355.19,464.86 L359.10,465.64 L363.99,465.64 L367.90,467.99 L372.79,470.53 L378.65,470.14 L380.61,471.51 L384.52,475.02 L388.43,474.44 L392.34,474.83 L398.20,474.63 L406.02,474.44 L411.89,474.24 L415.80,474.44 L418.73,475.81 L421.66,477.96 L425.57,477.37 L433.39,477.17 L441.21,477.37 L449.03,477.37 L452.94,476.59 L456.85,476.78 L460.76,477.17 L468.58,476.59 L474.45,477.17 L478.36,476.39 L486.18,476.00 L495.95,475.61 L503.77,475.02 L507.68,473.07 L511.59,473.85 L515.50,474.24 L520.87,474.24 L524.78,473.66 L530.64,473.85 L536.51,474.44 L544.33,474.44 L548.24,473.66 L554.10,473.46 L564.85,473.46 L568.76,471.51 L572.67,469.16 L577.56,469.55 L583.43,469.35 L589.29,468.77 L597.11,468.96 L604.93,469.16 L608.84,469.16 L612.75,468.38 L616.66,469.16 L620.57,469.94 L628.39,470.33 L632.30,467.99 L636.21,468.57 L640.12,469.55 L644.03,470.92 L647.94,471.11 L651.85,470.33 L655.76,470.14 L659.67,467.99 L663.58,467.20 L667.49,465.64 L671.40,463.69 L675.31,462.32 L681.18,461.93 L687.04,461.53 L694.86,461.53 L764.40,461.50 L770.30,465.80 L776.70,470.60 L783.20,475.50 L789.60,479.80 L793.40,480.30" stroke="#0000ff" class="dl" clip-path="url(#c5)"/>
<line x1="127.90" y1="115.50" x2="127.90" y2="112.90" class="tk"/>
<line x1="127.90" y1="53.90" x2="127.90" y2="56.50" class="tk"/>
<line x1="260.03" y1="115.50" x2="260.03" y2="112.90" class="tk"/>
<line x1="260.03" y1="53.90" x2="260.03" y2="56.50" class="tk"/>
<line x1="392.17" y1="115.50" x2="392.17" y2="112.90" class="tk"/>
<line x1="392.17" y1="53.90" x2="392.17" y2="56.50" class="tk"/>
<line x1="524.30" y1="115.50" x2="524.30" y2="112.90" class="tk"/>
<line x1="524.30" y1="53.90" x2="524.30" y2="56.50" class="tk"/>
<line x1="656.43" y1="115.50" x2="656.43" y2="112.90" class="tk"/>
<line x1="656.43" y1="53.90" x2="656.43" y2="56.50" class="tk"/>
<line x1="788.57" y1="115.50" x2="788.57" y2="112.90" class="tk"/>
<line x1="788.57" y1="53.90" x2="788.57" y2="56.50" class="tk"/>
<line x1="920.70" y1="115.50" x2="920.70" y2="112.90" class="tk"/>
<line x1="920.70" y1="53.90" x2="920.70" y2="56.50" class="tk"/>
<line x1="127.90" y1="110.37" x2="130.50" y2="110.37" class="tk"/>
<line x1="127.90" y1="100.10" x2="130.50" y2="100.10" class="tk"/>
<line x1="127.90" y1="89.83" x2="130.50" y2="89.83" class="tk"/>
<line x1="127.90" y1="79.57" x2="130.50" y2="79.57" class="tk"/>
<line x1="127.90" y1="69.30" x2="130.50" y2="69.30" class="tk"/>
<line x1="127.90" y1="59.03" x2="130.50" y2="59.03" class="tk"/>
<line x1="920.70" y1="110.37" x2="918.10" y2="110.37" class="tk"/>
<line x1="920.70" y1="97.53" x2="918.10" y2="97.53" class="tk"/>
<line x1="920.70" y1="84.70" x2="918.10" y2="84.70" class="tk"/>
<line x1="920.70" y1="71.87" x2="918.10" y2="71.87" class="tk"/>
<line x1="920.70" y1="59.03" x2="918.10" y2="59.03" class="tk"/>
<rect x="127.90" y="53.90" width="792.80" height="61.60" class="fr"/>
<line x1="127.90" y1="189.42" x2="127.90" y2="186.82" class="tk"/>
<line x1="127.90" y1="127.82" x2="127.90" y2="130.42" class="tk"/>
<line x1="260.03" y1="189.42" x2="260.03" y2="186.82" class="tk"/>
<line x1="260.03" y1="127.82" x2="260.03" y2="130.42" class="tk"/>
<line x1="392.17" y1="189.42" x2="392.17" y2="186.82" class="tk"/>
<line x1="392.17" y1="127.82" x2="392.17" y2="130.42" class="tk"/>
<line x1="524.30" y1="189.42" x2="524.30" y2="186.82" class="tk"/>
<line x1="524.30" y1="127.82" x2="524.30" y2="130.42" class="tk"/>
<line x1="656.43" y1="189.42" x2="656.43" y2="186.82" class="tk"/>
<line x1="656.43" y1="127.82" x2="656.43" y2="130.42" class="tk"/>
<line x1="788.57" y1="189.42" x2="788.57" y2="186.82" class="tk"/>
<line x1="788.57" y1="127.82" x2="788.57" y2="130.42" class="tk"/>
<line x1="920.70" y1="189.42" x2="920.70" y2="186.82" class="tk"/>
<line x1="920.70" y1="127.82" x2="920.70" y2="130.42" class="tk"/>
<line x1="127.90" y1="184.29" x2="130.50" y2="184.29" class="tk"/>
<line x1="920.70" y1="184.29" x2="918.10" y2="184.29" class="tk"/>
<line x1="127.90" y1="167.46" x2="130.50" y2="167.46" class="tk"/>
<line x1="920.70" y1="167.46" x2="918.10" y2="167.46" class="tk"/>
<line x1="127.90" y1="150.63" x2="130.50" y2="150.63" class="tk"/>
<line x1="920.70" y1="150.63" x2="918.10" y2="150.63" class="tk"/>
<line x1="127.90" y1="133.79" x2="130.50" y2="133.79" class="tk"/>
<line x1="920.70" y1="133.79" x2="918.10" y2="133.79" class="tk"/>
<rect x="127.90" y="127.82" width="792.80" height="61.60" class="fr"/>
<line x1="127.90" y1="263.34" x2="127.90" y2="260.74" class="tk"/>
<line x1="127.90" y1="201.74" x2="127.90" y2="204.34" class="tk"/>
<line x1="260.03" y1="263.34" x2="260.03" y2="260.74" class="tk"/>
<line x1="260.03" y1="201.74" x2="260.03" y2="204.34" class="tk"/>
<line x1="392.17" y1="263.34" x2="392.17" y2="260.74" class="tk"/>
<line x1="392.17" y1="201.74" x2="392.17" y2="204.34" class="tk"/>
<line x1="524.30" y1="263.34" x2="524.30" y2="260.74" class="tk"/>
<line x1="524.30" y1="201.74" x2="524.30" y2="204.34" class="tk"/>
<line x1="656.43" y1="263.34" x2="656.43" y2="260.74" class="tk"/>
<line x1="656.43" y1="201.74" x2="656.43" y2="204.34" class="tk"/>
<line x1="788.57" y1="263.34" x2="788.57" y2="260.74" class="tk"/>
<line x1="788.57" y1="201.74" x2="788.57" y2="204.34" class="tk"/>
<line x1="920.70" y1="263.34" x2="920.70" y2="260.74" class="tk"/>
<line x1="920.70" y1="201.74" x2="920.70" y2="204.34" class="tk"/>
<line x1="127.90" y1="258.21" x2="130.50" y2="258.21" class="tk"/>
<line x1="127.90" y1="240.98" x2="130.50" y2="240.98" class="tk"/>
<line x1="127.90" y1="223.75" x2="130.50" y2="223.75" class="tk"/>
<line x1="127.90" y1="206.53" x2="130.50" y2="206.53" class="tk"/>
<line x1="920.70" y1="258.21" x2="918.10" y2="258.21" class="tk"/>
<line x1="920.70" y1="247.80" x2="918.10" y2="247.80" class="tk"/>
<line x1="920.70" y1="237.40" x2="918.10" y2="237.40" class="tk"/>
<line x1="920.70" y1="227.00" x2="918.10" y2="227.00" class="tk"/>
<line x1="920.70" y1="216.60" x2="918.10" y2="216.60" class="tk"/>
<line x1="920.70" y1="206.20" x2="918.10" y2="206.20" class="tk"/>
<rect x="127.90" y="201.74" width="792.80" height="61.60" class="fr"/>
<line x1="127.90" y1="337.26" x2="127.90" y2="334.66" class="tk"/>
<line x1="127.90" y1="275.66" x2="127.90" y2="278.26" class="tk"/>
<line x1="260.03" y1="337.26" x2="260.03" y2="334.66" class="tk"/>
<line x1="260.03" y1="275.66" x2="260.03" y2="278.26" class="tk"/>
<line x1="392.17" y1="337.26" x2="392.17" y2="334.66" class="tk"/>
<line x1="392.17" y1="275.66" x2="392.17" y2="278.26" class="tk"/>
<line x1="524.30" y1="337.26" x2="524.30" y2="334.66" class="tk"/>
<line x1="524.30" y1="275.66" x2="524.30" y2="278.26" class="tk"/>
<line x1="656.43" y1="337.26" x2="656.43" y2="334.66" class="tk"/>
<line x1="656.43" y1="275.66" x2="656.43" y2="278.26" class="tk"/>
<line x1="788.57" y1="337.26" x2="788.57" y2="334.66" class="tk"/>
<line x1="788.57" y1="275.66" x2="788.57" y2="278.26" class="tk"/>
<line x1="920.70" y1="337.26" x2="920.70" y2="334.66" class="tk"/>
<line x1="920.70" y1="275.66" x2="920.70" y2="278.26" class="tk"/>
<line x1="127.90" y1="332.13" x2="130.50" y2="332.13" class="tk"/>
<line x1="920.70" y1="332.13" x2="918.10" y2="332.13" class="tk"/>
<line x1="127.90" y1="321.86" x2="130.50" y2="321.86" class="tk"/>
<line x1="920.70" y1="321.86" x2="918.10" y2="321.86" class="tk"/>
<line x1="127.90" y1="311.59" x2="130.50" y2="311.59" class="tk"/>
<line x1="920.70" y1="311.59" x2="918.10" y2="311.59" class="tk"/>
<line x1="127.90" y1="301.33" x2="130.50" y2="301.33" class="tk"/>
<line x1="920.70" y1="301.33" x2="918.10" y2="301.33" class="tk"/>
<line x1="127.90" y1="291.06" x2="130.50" y2="291.06" class="tk"/>
<line x1="920.70" y1="291.06" x2="918.10" y2="291.06" class="tk"/>
<line x1="127.90" y1="280.79" x2="130.50" y2="280.79" class="tk"/>
<line x1="920.70" y1="280.79" x2="918.10" y2="280.79" class="tk"/>
<rect x="127.90" y="275.66" width="792.80" height="61.60" class="fr"/>
<line x1="127.90" y1="411.18" x2="127.90" y2="408.58" class="tk"/>
<line x1="127.90" y1="349.58" x2="127.90" y2="352.18" class="tk"/>
<line x1="260.03" y1="411.18" x2="260.03" y2="408.58" class="tk"/>
<line x1="260.03" y1="349.58" x2="260.03" y2="352.18" class="tk"/>
<line x1="392.17" y1="411.18" x2="392.17" y2="408.58" class="tk"/>
<line x1="392.17" y1="349.58" x2="392.17" y2="352.18" class="tk"/>
<line x1="524.30" y1="411.18" x2="524.30" y2="408.58" class="tk"/>
<line x1="524.30" y1="349.58" x2="524.30" y2="352.18" class="tk"/>
<line x1="656.43" y1="411.18" x2="656.43" y2="408.58" class="tk"/>
<line x1="656.43" y1="349.58" x2="656.43" y2="352.18" class="tk"/>
<line x1="788.57" y1="411.18" x2="788.57" y2="408.58" class="tk"/>
<line x1="788.57" y1="349.58" x2="788.57" y2="352.18" class="tk"/>
<line x1="920.70" y1="411.18" x2="920.70" y2="408.58" class="tk"/>
<line x1="920.70" y1="349.58" x2="920.70" y2="352.18" class="tk"/>
<line x1="127.90" y1="406.05" x2="130.50" y2="406.05" class="tk"/>
<line x1="920.70" y1="406.05" x2="918.10" y2="406.05" class="tk"/>
<line x1="127.90" y1="395.78" x2="130.50" y2="395.78" class="tk"/>
<line x1="920.70" y1="395.78" x2="918.10" y2="395.78" class="tk"/>
<line x1="127.90" y1="385.51" x2="130.50" y2="385.51" class="tk"/>
<line x1="920.70" y1="385.51" x2="918.10" y2="385.51" class="tk"/>
<line x1="127.90" y1="375.25" x2="130.50" y2="375.25" class="tk"/>
<line x1="920.70" y1="375.25" x2="918.10" y2="375.25" class="tk"/>
<line x1="127.90" y1="364.98" x2="130.50" y2="364.98" class="tk"/>
<line x1="920.70" y1="364.98" x2="918.10" y2="364.98" class="tk"/>
<line x1="127.90" y1="354.71" x2="130.50" y2="354.71" class="tk"/>
<line x1="920.70" y1="354.71" x2="918.10" y2="354.71" class="tk"/>
<rect x="127.90" y="349.58" width="792.80" height="61.60" class="fr"/>
<line x1="127.90" y1="485.10" x2="127.90" y2="482.50" class="tk"/>
<line x1="127.90" y1="423.50" x2="127.90" y2="426.10" class="tk"/>
<line x1="260.03" y1="485.10" x2="260.03" y2="482.50" class="tk"/>
<line x1="260.03" y1="423.50" x2="260.03" y2="426.10" class="tk"/>
<line x1="392.17" y1="485.10" x2="392.17" y2="482.50" class="tk"/>
<line x1="392.17" y1="423.50" x2="392.17" y2="426.10" class="tk"/>
<line x1="524.30" y1="485.10" x2="524.30" y2="482.50" class="tk"/>
<line x1="524.30" y1="423.50" x2="524.30" y2="426.10" class="tk"/>
<line x1="656.43" y1="485.10" x2="656.43" y2="482.50" class="tk"/>
<line x1="656.43" y1="423.50" x2="656.43" y2="426.10" class="tk"/>
<line x1="788.57" y1="485.10" x2="788.57" y2="482.50" class="tk"/>
<line x1="788.57" y1="423.50" x2="788.57" y2="426.10" class="tk"/>
<line x1="920.70" y1="485.10" x2="920.70" y2="482.50" class="tk"/>
<line x1="920.70" y1="423.50" x2="920.70" y2="426.10" class="tk"/>
<line x1="127.90" y1="479.97" x2="130.50" y2="479.97" class="tk"/>
<line x1="920.70" y1="479.97" x2="918.10" y2="479.97" class="tk"/>
<line x1="127.90" y1="463.08" x2="130.50" y2="463.08" class="tk"/>
<line x1="920.70" y1="463.08" x2="918.10" y2="463.08" class="tk"/>
<line x1="127.90" y1="446.19" x2="130.50" y2="446.19" class="tk"/>
<line x1="920.70" y1="446.19" x2="918.10" y2="446.19" class="tk"/>
<line x1="127.90" y1="429.31" x2="130.50" y2="429.31" class="tk"/>
<line x1="920.70" y1="429.31" x2="918.10" y2="429.31" class="tk"/>
<rect x="127.90" y="423.50" width="792.80" height="61.60" class="fr"/>
<rect x="795.50" y="58.20" width="121.10" height="55.60" class="lg"/>
<line x1="801.20" y1="65.00" x2="814.50" y2="65.00" stroke="#0000ff" class="dl"/>
<line x1="801.20" y1="78.30" x2="814.50" y2="78.30" stroke="#0000ff" class="dl"/>
<line x1="801.20" y1="91.50" x2="814.50" y2="91.50" stroke="#008000" class="dl"/>
<line x1="801.20" y1="104.90" x2="814.50" y2="104.90" stroke="#ff0000" class="dl"/>
<rect x="793.60" y="132.00" width="123.00" height="16.50" class="lg"/>
<line x1="799.90" y1="139.50" x2="812.90" y2="139.50" stroke="#0000ff" class="dl"/>
<rect x="760.40" y="206.00" width="156.00" height="42.50" class="lg"/>
<line x1="766.50" y1="213.10" x2="778.70" y2="213.10" stroke="#0000ff" class="dl"/>
<line x1="766.50" y1="226.60" x2="778.70" y2="226.60" stroke="#008000" class="dl"/>
<line x1="766.50" y1="239.60" x2="778.70" y2="239.60" stroke="#0000ff" class="dl"/>
<rect x="794.70" y="280.40" width="121.80" height="15.60" class="lg"/>
<line x1="801.20" y1="287.60" x2="813.90" y2="287.60" stroke="#0000ff" class="dl"/>
<rect x="785.90" y="354.20" width="130.60" height="16.20" class="lg"/>
<line x1="791.80" y1="361.20" x2="804.90" y2="361.20" stroke="#0000ff" class="dl"/>
<rect x="851.40" y="428.30" width="65.10" height="16.00" class="lg"/>
<line x1="857.70" y1="435.10" x2="870.60" y2="435.10" stroke="#0000ff" class="dl"/>
</g>
<text transform="translate(127.90,124.35) scale(0.88,1)" class="xl">0</text>
<text transform="translate(260.03,124.35) scale(0.88,1)" class="xl">100</text>
<text transform="translate(392.17,124.35) scale(0.88,1)" class="xl">200</text>
<text transform="translate(524.30,124.35) scale(0.88,1)" class="xl">300</text>
<text transform="translate(656.43,124.35) scale(0.88,1)" class="xl">400</text>
<text transform="translate(788.57,124.35) scale(0.88,1)" class="xl">500</text>
<text transform="translate(920.70,124.35) scale(0.88,1)" class="xl">600</text>
<text transform="translate(125.50,112.87) scale(0.88,1)" class="yl">0.0</text>
<text transform="translate(125.50,102.60) scale(0.88,1)" class="yl">0.2</text>
<text transform="translate(125.50,92.33) scale(0.88,1)" class="yl">0.4</text>
<text transform="translate(125.50,82.07) scale(0.88,1)" class="yl">0.6</text>
<text transform="translate(125.50,71.80) scale(0.88,1)" class="yl">0.8</text>
<text transform="translate(125.50,61.53) scale(0.88,1)" class="yl">1.0</text>
<text transform="translate(923.70,112.87) scale(0.88,1)" class="yr">0</text>
<text transform="translate(923.70,100.03) scale(0.88,1)" class="yr">1</text>
<text transform="translate(923.70,87.20) scale(0.88,1)" class="yr">2</text>
<text transform="translate(923.70,74.37) scale(0.88,1)" class="yr">3</text>
<text transform="translate(923.70,61.53) scale(0.88,1)" class="yr">4</text>
<text transform="translate(127.90,198.27) scale(0.88,1)" class="xl">0</text>
<text transform="translate(260.03,198.27) scale(0.88,1)" class="xl">100</text>
<text transform="translate(392.17,198.27) scale(0.88,1)" class="xl">200</text>
<text transform="translate(524.30,198.27) scale(0.88,1)" class="xl">300</text>
<text transform="translate(656.43,198.27) scale(0.88,1)" class="xl">400</text>
<text transform="translate(788.57,198.27) scale(0.88,1)" class="xl">500</text>
<text transform="translate(920.70,198.27) scale(0.88,1)" class="xl">600</text>
<text transform="translate(125.50,186.79) scale(0.88,1)" class="yl">0</text>
<text transform="translate(125.50,169.96) scale(0.88,1)" class="yl">5</text>
<text transform="translate(125.50,153.13) scale(0.88,1)" class="yl">10</text>
<text transform="translate(125.50,136.29) scale(0.88,1)" class="yl">15</text>
<text transform="translate(127.90,272.19) scale(0.88,1)" class="xl">0</text>
<text transform="translate(260.03,272.19) scale(0.88,1)" class="xl">100</text>
<text transform="translate(392.17,272.19) scale(0.88,1)" class="xl">200</text>
<text transform="translate(524.30,272.19) scale(0.88,1)" class="xl">300</text>
<text transform="translate(656.43,272.19) scale(0.88,1)" class="xl">400</text>
<text transform="translate(788.57,272.19) scale(0.88,1)" class="xl">500</text>
<text transform="translate(920.70,272.19) scale(0.88,1)" class="xl">600</text>
<text transform="translate(125.50,260.71) scale(0.88,1)" class="yl">0</text>
<text transform="translate(125.50,243.48) scale(0.88,1)" class="yl">5</text>
<text transform="translate(125.50,226.25) scale(0.88,1)" class="yl">10</text>
<text transform="translate(125.50,209.03) scale(0.88,1)" class="yl">15</text>
<text transform="translate(923.70,260.71) scale(0.88,1)" class="yr">0</text>
<text transform="translate(923.70,250.30) scale(0.88,1)" class="yr">20000</text>
<text transform="translate(923.70,239.90) scale(0.88,1)" class="yr">40000</text>
<text transform="translate(923.70,229.50) scale(0.88,1)" class="yr">60000</text>
<text transform="translate(923.70,219.10) scale(0.88,1)" class="yr">80000</text>
<text transform="translate(923.70,208.70) scale(0.88,1)" class="yr">100000</text>
<text transform="translate(127.90,346.11) scale(0.88,1)" class="xl">0</text>
<text transform="translate(260.03,346.11) scale(0.88,1)" class="xl">100</text>
<text transform="translate(392.17,346.11) scale(0.88,1)" class="xl">200</text>
<text transform="translate(524.30,346.11) scale(0.88,1)" class="xl">300</text>
<text transform="translate(656.43,346.11) scale(0.88,1)" class="xl">400</text>
<text transform="translate(788.57,346.11) scale(0.88,1)" class="xl">500</text>
<text transform="translate(920.70,346.11) scale(0.88,1)" class="xl">600</text>
<text transform="translate(125.50,334.63) scale(0.88,1)" class="yl">0.0</text>
<text transform="translate(125.50,324.36) scale(0.88,1)" class="yl">0.2</text>
<text transform="translate(125.50,314.09) scale(0.88,1)" class="yl">0.4</text>
<text transform="translate(125.50,303.83) scale(0.88,1)" class="yl">0.6</text>
<text transform="translate(125.50,293.56) scale(0.88,1)" class="yl">0.8</text>
<text transform="translate(125.50,283.29) scale(0.88,1)" class="yl">1.0</text>
<text transform="translate(127.90,420.03) scale(0.88,1)" class="xl">0</text>
<text transform="translate(260.03,420.03) scale(0.88,1)" class="xl">100</text>
<text transform="translate(392.17,420.03) scale(0.88,1)" class="xl">200</text>
<text transform="translate(524.30,420.03) scale(0.88,1)" class="xl">300</text>
<text transform="translate(656.43,420.03) scale(0.88,1)" class="xl">400</text>
<text transform="translate(788.57,420.03) scale(0.88,1)" class="xl">500</text>
<text transform="translate(920.70,420.03) scale(0.88,1)" class="xl">600</text>
<text transform="translate(125.50,408.55) scale(0.88,1)" class="yl">0.0</text>
<text transform="translate(125.50,398.28) scale(0.88,1)" class="yl">0.2</text>
<text transform="translate(125.50,388.01) scale(0.88,1)" class="yl">0.4</text>
<text transform="translate(125.50,377.75) scale(0.88,1)" class="yl">0.6</text>
<text transform="translate(125.50,367.48) scale(0.88,1)" class="yl">0.8</text>
<text transform="translate(125.50,357.21) scale(0.88,1)" class="yl">1.0</text>
<text transform="translate(127.90,493.95) scale(0.88,1)" class="xl">0</text>
<text transform="translate(260.03,493.95) scale(0.88,1)" class="xl">100</text>
<text transform="translate(392.17,493.95) scale(0.88,1)" class="xl">200</text>
<text transform="translate(524.30,493.95) scale(0.88,1)" class="xl">300</text>
<text transform="translate(656.43,493.95) scale(0.88,1)" class="xl">400</text>
<text transform="translate(788.57,493.95) scale(0.88,1)" class="xl">500</text>
<text transform="translate(920.70,493.95) scale(0.88,1)" class="xl">600</text>
<text transform="translate(125.50,482.47) scale(0.88,1)" class="yl">0</text>
<text transform="translate(125.50,465.58) scale(0.88,1)" class="yl">50</text>
<text transform="translate(125.50,448.69) scale(0.88,1)" class="yl">100</text>
<text transform="translate(125.50,431.81) scale(0.88,1)" class="yl">150</text>
<text x="824.00" y="68.70" class="lt"  textLength="86.0" lengthAdjust="spacingAndGlyphs">InjCrv_stNsCharCor</text>
<text x="824.00" y="82.00" class="lt"  textLength="88.1" lengthAdjust="spacingAndGlyphs">ASMod_lSumVehAct</text>
<text x="824.00" y="95.20" class="lt"  textLength="29.0" lengthAdjust="spacingAndGlyphs">ts_min</text>
<text x="824.00" y="108.60" class="lt"  textLength="31.6" lengthAdjust="spacingAndGlyphs">ts_max</text>
<text x="822.30" y="143.20" class="lt"  textLength="90.0" lengthAdjust="spacingAndGlyphs">DStgy_dmRdcAgDes</text>
<text x="788.60" y="216.80" class="lt"  textLength="123.8" lengthAdjust="spacingAndGlyphs">SCRFFC_dmNOxUs2S16_mp</text>
<text x="788.60" y="230.30" class="lt"  textLength="53.5" lengthAdjust="spacingAndGlyphs">DosingState</text>
<text x="788.60" y="243.30" class="lt"  textLength="119.8" lengthAdjust="spacingAndGlyphs">__dewdet_IntegratorState2</text>
<text x="823.70" y="291.30" class="lt"  textLength="88.9" lengthAdjust="spacingAndGlyphs">SCRFFC_dmNH3Cnv</text>
<text x="814.30" y="364.90" class="lt"  textLength="97.7" lengthAdjust="spacingAndGlyphs">SCRFFC_dmNH3PreCtl</text>
<text x="879.80" y="438.80" class="lt"  textLength="32.2" lengthAdjust="spacingAndGlyphs">VehV_v</text>
</svg>
</body></html>
